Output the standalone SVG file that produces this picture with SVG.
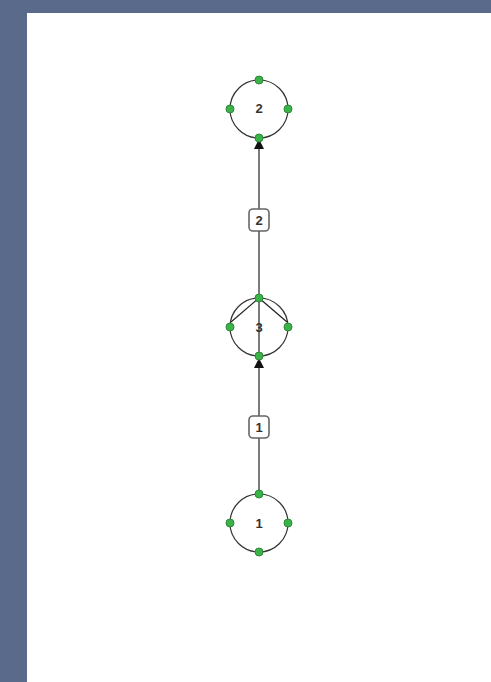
<svg xmlns="http://www.w3.org/2000/svg" width="491" height="682" viewBox="0 0 491 682">
<defs>
<style>
.node{fill:#fff;stroke:#333;stroke-width:1.2}
.port{fill:#3cb34a;stroke:#2a8a35;stroke-width:1}
.lbl{font-family:"Liberation Sans",Arial,sans-serif;font-size:13px;font-weight:bold;fill:#333;text-anchor:middle}
.edge{stroke:#222;stroke-width:1.2;fill:none}
.ebox{fill:#fff;stroke:#666;stroke-width:1.6}
</style>
<marker id="arr" markerWidth="10" markerHeight="12" refX="10" refY="5" orient="auto" markerUnits="userSpaceOnUse">
<path d="M0,0 L10,5 L0,10 z" fill="#111"/>
</marker>
</defs>
<rect x="0" y="0" width="491" height="682" fill="#5a6a8a"/>
<rect x="27" y="13" width="464" height="669" fill="#ffffff"/>
<g id="connectors">
<line class="edge" x1="259" y1="494" x2="259" y2="358" marker-end="url(#arr)"/>
<line class="edge" x1="259" y1="357" x2="259" y2="298"/>
<line class="edge" x1="259" y1="298" x2="259" y2="139" marker-end="url(#arr)"/>
<rect class="ebox" x="249" y="416" width="20" height="22" rx="4"/>
<text class="lbl" x="259" y="432">1</text>
<rect class="ebox" x="249" y="209" width="20" height="22" rx="4"/>
<text class="lbl" x="259" y="225">2</text>
</g>
<g id="node2">
<circle class="node" cx="259" cy="109" r="29"/>
<text class="lbl" x="259" y="113">2</text>
<circle class="port" cx="259" cy="80" r="4"/>
<circle class="port" cx="259" cy="138" r="4"/>
<circle class="port" cx="230" cy="109" r="4"/>
<circle class="port" cx="288" cy="109" r="4"/>
</g>
<g id="node3">
<circle class="node" cx="259" cy="327" r="29"/>
<line class="edge" x1="259" y1="298" x2="231" y2="322"/>
<line class="edge" x1="259" y1="298" x2="287" y2="322"/>
<line class="edge" x1="259" y1="298" x2="259" y2="357"/>
<text class="lbl" x="259" y="332">3</text>
<circle class="port" cx="259" cy="298" r="4"/>
<circle class="port" cx="259" cy="356" r="4"/>
<circle class="port" cx="230" cy="327" r="4"/>
<circle class="port" cx="288" cy="327" r="4"/>
</g>
<g id="node1">
<circle class="node" cx="259" cy="523" r="29"/>
<text class="lbl" x="259" y="528">1</text>
<circle class="port" cx="259" cy="494" r="4"/>
<circle class="port" cx="259" cy="552" r="4"/>
<circle class="port" cx="230" cy="523" r="4"/>
<circle class="port" cx="288" cy="523" r="4"/>
</g>
</svg>
